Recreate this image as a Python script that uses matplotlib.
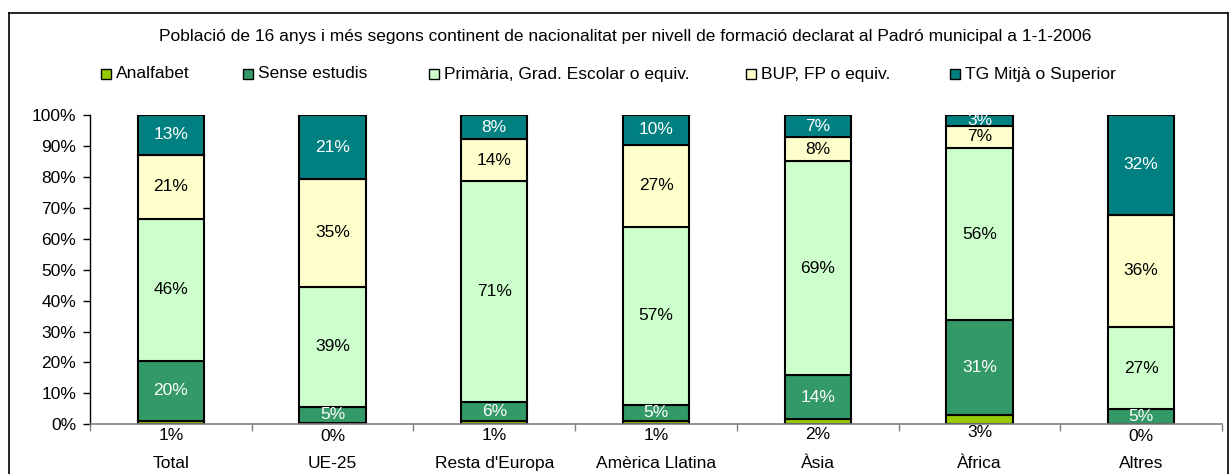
import matplotlib
matplotlib.use("Agg")
import matplotlib.pyplot as plt
from matplotlib.patches import Rectangle
from matplotlib.lines import Line2D
import numpy as np

plt.rcParams['font.family'] = ['Liberation Sans', 'DejaVu Sans']

categories = ["Total", "UE-25", "Resta d'Europa", "Amèrica Llatina", "Àsia", "Àfrica", "Altres"]
series_names = ["Analfabet", "Sense estudis", "Primària, Grad. Escolar o equiv.",
                "BUP, FP o equiv.", "TG Mitjà o Superior"]

analfabet = [1.0, 0.4, 1.1, 1.1, 1.6, 3.0, 0.2]
sense_estudis = [19.6, 5.3, 6.0, 5.3, 14.2, 30.6, 4.7]
primaria = [45.9, 38.7, 71.4, 57.4, 69.3, 55.6, 26.6]
bup_fp = [20.7, 34.9, 13.7, 26.6, 7.7, 7.4, 36.2]
tg_superior = [12.8, 20.7, 7.8, 9.6, 7.2, 3.4, 32.3]

series = [analfabet, sense_estudis, primaria, bup_fp, tg_superior]
colors = ["#99CC00", "#339966", "#CCFFCC", "#FFFFCC", "#008080"]
label_colors = ["black", "white", "black", "black", "white"]

W, H = 1231, 474
fig = plt.figure(figsize=(W / 100, H / 100), dpi=100)
fs = 12.5

# frame around the whole chart
for (x0, y0, x1, y1) in [(9, 13, 1228, 13), (9, 13, 9, 474), (1228, 13, 1228, 474)]:
    fig.add_artist(Line2D([x0 / W, x1 / W], [1 - y0 / H, 1 - y1 / H],
                          transform=fig.transFigure, color="black", lw=1.2))

ax = fig.add_axes([90 / W, (H - 424.3) / H, (1222 - 90) / W, 309.3 / H])

x = np.arange(len(categories))
bottom = np.zeros(len(categories))
for vals, col, lc in zip(series, colors, label_colors):
    vals = np.array(vals)
    ax.bar(x, vals, width=0.41, bottom=bottom, color=col,
           edgecolor="black", linewidth=1.5, zorder=3)
    for xi, b, v in zip(x, bottom, vals):
        txt = f"{v:.0f}%"
        if col == colors[0]:
            ax.annotate(txt, (xi, b + v / 2), xytext=(0, -13), textcoords="offset pixels",
                        ha="center", va="center", fontsize=fs, color=lc, zorder=5)
        else:
            ax.text(xi, b + v / 2, txt, ha="center", va="center",
                    fontsize=fs, color=lc, zorder=5)
    bottom += vals

ax.set_xlim(-0.5, len(categories) - 0.5)
ax.set_ylim(0, 100)
ax.set_yticks(np.arange(0, 101, 10))
ax.set_yticklabels([f"{t}%" for t in range(0, 101, 10)], fontsize=fs)
ax.set_xticks(x)
ax.set_xticklabels(categories, fontsize=fs)
ax.tick_params(axis="x", length=0, pad=23)
ax.set_xticks(np.arange(-0.5, len(categories)), minor=True)
ax.tick_params(axis="x", which="minor", length=5, color="#808080", width=1)
ax.tick_params(axis="y", length=5, width=1, pad=5)

for s in ["top", "right"]:
    ax.spines[s].set_visible(False)
ax.spines["bottom"].set_color("#808080")
ax.spines["bottom"].set_linewidth(1.2)
ax.spines["bottom"].set_zorder(4)
ax.spines["left"].set_color("black")
ax.spines["left"].set_linewidth(1)

fig.text(625 / W, 1 - 36 / H,
         "Població de 16 anys i més segons continent de nacionalitat per nivell de formació declarat al Padró municipal a 1-1-2006",
         ha="center", va="center", fontsize=fs)

# legend row
legend_x = [101, 243, 429, 746, 950]
ly = 74
for lx, name, col in zip(legend_x, series_names, colors):
    fig.add_artist(Rectangle((lx / W, 1 - (ly + 5) / H), 10 / W, 10 / H,
                             transform=fig.transFigure, facecolor=col,
                             edgecolor="black", linewidth=1))
    fig.text((lx + 15) / W, 1 - ly / H, name, ha="left", va="center", fontsize=fs)

fig.savefig("out.png", dpi=100)
